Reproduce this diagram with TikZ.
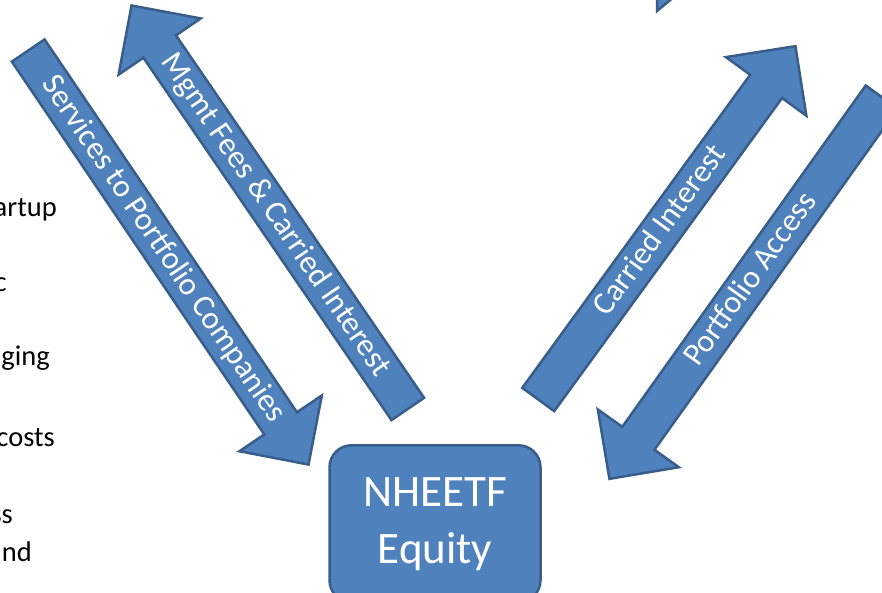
\documentclass[tikz,border=0pt]{standalone}
\usepackage{fontspec}
\setmainfont{Carlito}
\usetikzlibrary{shapes.arrows}
\definecolor{officeblue}{RGB}{79,129,189}
\definecolor{officeline}{RGB}{56,93,138}

\begin{document}
\begin{tikzpicture}[x=1pt,y=-1pt,
    flow/.style={single arrow, draw=officeline, fill=officeblue, line width=2.5pt,
        text=white, font=\fontsize{32}{32}\selectfont, text height=20pt, text depth=4pt,
        inner xsep=0pt, inner ysep=6.5pt, single arrow head extend=30pt,
        single arrow tip angle=90, anchor=tail},
    equitybox/.style={draw=officeline, fill=officeblue, line width=2.5pt, rounded corners=22pt,
        minimum width=211pt, minimum height=157pt, align=center, text=white,
        font=\fontsize{45}{57}\selectfont},
    side/.style={anchor=base east, inner sep=0pt, font=\fontsize{28.5}{28.5}\selectfont}]
    \useasboundingbox (0,0) rectangle (882,593);
    \clip (0,0) rectangle (882,593);

    % Cut-off text on the left
    \node[side] (l1) at (57,216.7) {artup};
    \node[side] (l2) at (7,291.7) {c};
    \node[side] (l3) at (50,365) {ging};
    \node[side] (l4) at (55,446.7) {costs};
    \node[side] (l5) at (13,523) {ss};
    \node[side] (l6) at (32,561.7) {nd};

    % Piece of an arrow head at the top
    \filldraw[draw=officeline, fill=officeblue, line width=2.5pt]
        (657,-8) -- (657,11) -- (680,-8) -- cycle;

    % Flows on the left
    \node[flow, rotate=-55.9, minimum height=500pt] (services) at (27.5,49.5)
        {Services to Portfolio Companies};
    \node[flow, rotate=-55.6, shape border rotate=180, minimum height=489pt] (fees) at (408.5,410)
        {Mgmt Fees \& Carried Interest};

    % Flows on the right
    \node[flow, rotate=53.95, minimum height=437pt] (carried) at (537.5,400.5)
        {Carried Interest};
    \node[flow, rotate=54.5, shape border rotate=180, minimum height=469pt] (access) at (882.5,96)
        {Portfolio Access};

    % Fund equity
    \node[equitybox] (equity) at (435,523.8) {NHEETF\\Equity};
\end{tikzpicture}
\end{document}
